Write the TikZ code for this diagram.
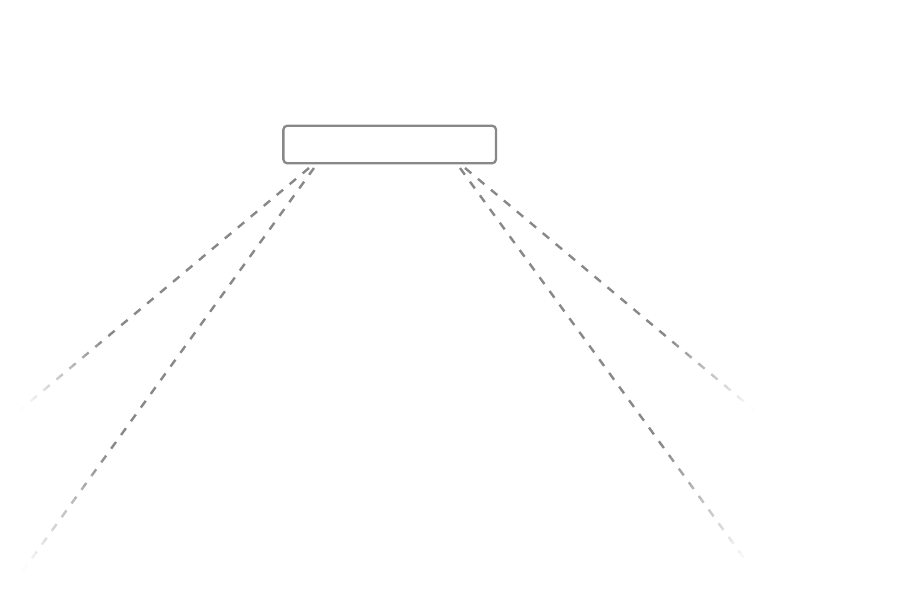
\documentclass[tikz,border=0pt]{standalone}
\usetikzlibrary{calc}
\definecolor{linegray}{HTML}{888888}
\tikzset{
  boxstyle/.style={draw=linegray, line width=2.3pt, rounded corners=4pt, fill=white,
    minimum width=212.7pt, minimum height=37.6pt, inner sep=0pt},
  rayline/.style={draw=linegray, line width=2.4pt, dash pattern=on 8.3pt off 8.6pt},
}
\begin{document}
\begin{tikzpicture}[x=1pt,y=-1pt]
  \useasboundingbox (0,0) rectangle (897,600);
  \node[boxstyle] (box) at (389.7,144.5) {};
  \coordinate (s1) at (309,168);
  \coordinate (s2) at (314,168);
  \coordinate (s3) at (460,168);
  \coordinate (s4) at (465,168);
  \coordinate (e1) at (20,410);
  \coordinate (e2) at (22,572);
  \coordinate (e3) at (749,565);
  \coordinate (e4) at (754,410);
  \foreach \s/\e/\L in {s1/e1/376.9, s2/e2/498.5, s3/e3/491.0, s4/e4/376.9}{
    \draw[rayline] (\s) -- ($(\s)!0.7!(\e)$);
    \foreach \i in {0,...,19}{
      \pgfmathsetmacro{\ta}{0.7+0.3*\i/20}
      \pgfmathsetmacro{\tb}{0.7+0.3*(\i+1)/20}
      \pgfmathsetmacro{\ph}{\ta*\L}
      \pgfmathsetmacro{\mix}{100*(1-(\i+0.5)/20)}
      \draw[rayline, draw=linegray!\mix!white, dash phase=\ph pt]
        ($(\s)!\ta!(\e)$) -- ($(\s)!\tb!(\e)$);
    }
  }
\end{tikzpicture}
\end{document}
